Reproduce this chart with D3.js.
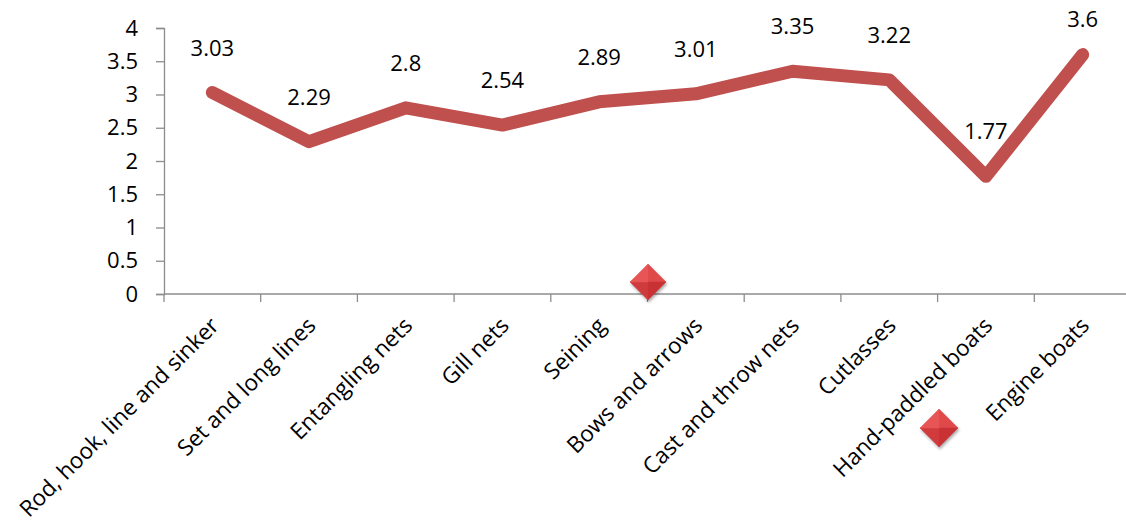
<!DOCTYPE html>
<html>
<head>
<meta charset="utf-8">
<script src="https://cdn.jsdelivr.net/npm/d3@7"></script>
<style>
  html, body { margin: 0; padding: 0; background: #fff; }
  svg { display: block; font-family: "Open Sans", "Noto Sans", sans-serif; }
</style>
</head>
<body>
<svg id="chart" width="1126" height="529"></svg>
<script>
// Fishing gear categories and mean scores
const categories = [
  "Rod, hook, line and sinker",
  "Set and long lines",
  "Entangling nets",
  "Gill nets",
  "Seining",
  "Bows and arrows",
  "Cast and throw nets",
  "Cutlasses",
  "Hand-paddled boats",
  "Engine boats"
];
const values = [3.03, 2.29, 2.8, 2.54, 2.89, 3.01, 3.35, 3.22, 1.77, 3.6];
const yTicks = [0, 0.5, 1, 1.5, 2, 2.5, 3, 3.5, 4];

const svg = d3.select("#chart");
const axisColor = "#8c8c8c";
const lineColor = "#C0504D";

const x = d3.scaleBand().domain(categories).range([164, 1131]).padding(0);
const y = d3.scaleLinear().domain([0, 4]).range([294, 28]);

// Y axis
const yAxis = svg.append("g")
  .attr("transform", "translate(164,0)")
  .call(d3.axisLeft(y).tickValues(yTicks).tickSize(8).tickPadding(18)
    .tickFormat(d3.format("")));
yAxis.select(".domain").attr("stroke", axisColor).attr("stroke-width", 1.3);
yAxis.selectAll(".tick line").attr("stroke", axisColor).attr("stroke-width", 1.3);
yAxis.selectAll(".tick text")
  .attr("fill", "#000").attr("font-size", 22).attr("font-family", "Open Sans, sans-serif");

// X axis: ticks at band boundaries
const boundaries = categories.map(c => x(c));
const xAxisG = svg.append("g").attr("transform", "translate(0,294)");
xAxisG.append("line")
  .attr("x1", 164).attr("x2", 1131).attr("y1", 0).attr("y2", 0)
  .attr("stroke", axisColor).attr("stroke-width", 1.3);
xAxisG.selectAll("line.tick")
  .data(boundaries)
  .join("line")
  .attr("class", "tick")
  .attr("x1", d => d).attr("x2", d => d)
  .attr("y1", 0).attr("y2", 8)
  .attr("stroke", axisColor).attr("stroke-width", 1.3);

// Rotated category labels
xAxisG.selectAll("text.cat")
  .data(categories)
  .join("text")
  .attr("class", "cat")
  .attr("text-anchor", "end")
  .attr("font-size", 22.5)
  .attr("fill", "#000")
  .attr("transform", d => `translate(${x(d) + x.bandwidth() / 2 + 8},${33}) rotate(-45)`)
  .text(d => d);

// Series line
const line = d3.line()
  .x((d, i) => x(categories[i]) + x.bandwidth() / 2)
  .y(d => y(d));

svg.append("path")
  .datum(values)
  .attr("d", line)
  .attr("fill", "none")
  .attr("stroke", lineColor)
  .attr("stroke-width", 13)
  .attr("stroke-linejoin", "round")
  .attr("stroke-linecap", "round");

// Data labels above each point
svg.selectAll("text.val")
  .data(values)
  .join("text")
  .attr("class", "val")
  .attr("text-anchor", "middle")
  .attr("font-size", 22)
  .attr("fill", "#000")
  .attr("x", (d, i) => x(categories[i]) + x.bandwidth() / 2)
  .attr("y", d => Math.max(27, y(d) - 37))
  .text(d => d);

// Decorative diamond markers
const defs = svg.append("defs");
const f = defs.append("filter").attr("id", "shadow")
  .attr("x", "-50%").attr("y", "-50%").attr("width", "200%").attr("height", "200%");
f.append("feDropShadow").attr("dx", 1).attr("dy", 2).attr("stdDeviation", 1.5)
  .attr("flood-color", "#000").attr("flood-opacity", 0.35);

const diamonds = [[648, 282, 18], [939, 428, 19]];
diamonds.forEach(([cx, cy, r]) => {
  const g = svg.append("g").attr("filter", "url(#shadow)");
  const top = [cx, cy - r], right = [cx + r, cy], bottom = [cx, cy + r], left = [cx - r, cy];
  const c = [cx, cy];
  const facets = [
    [[top, right, c], "#e0494a"],
    [[right, bottom, c], "#c93335"],
    [[bottom, left, c], "#d03a3c"],
    [[left, top, c], "#e85556"]
  ];
  facets.forEach(([pts, col]) => {
    g.append("path")
      .attr("d", "M" + pts.map(p => p.join(",")).join("L") + "Z")
      .attr("fill", col).attr("stroke", col).attr("stroke-width", 0.5);
  });
});
</script>
</body>
</html>
